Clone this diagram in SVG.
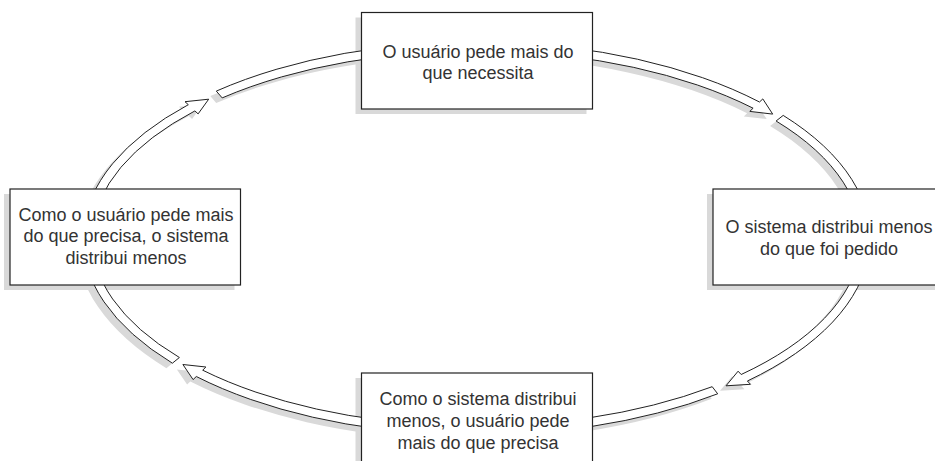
<svg xmlns="http://www.w3.org/2000/svg" width="935" height="461" viewBox="0 0 935 461">
<defs>
<style>
.arr{fill:#fff;stroke:#222;stroke-width:1;stroke-linejoin:miter}
.sh{fill:#d9d9d9;stroke:none}
.box{fill:#fff;stroke:#222;stroke-width:1.2}
.t{font-family:"Liberation Sans",Arial,sans-serif;font-size:18px;fill:#333;text-anchor:middle}
</style>
<path id="a1" d="M216.3,91.1 A393.5,196.5 0 0 1 759.5,102.0 L762.8,98.9 L772.7,114.1 L749.8,111.4 L753.1,108.2 A384.5,187.5 0 0 0 222.2,97.9 Z"/>
<path id="a2" d="M783.2,115.4 A393.5,196.5 0 0 1 747.4,381.0 L750.5,384.3 L726.0,385.8 L738.1,371.2 L741.2,374.5 A384.5,187.5 0 0 0 776.1,121.0 Z"/>
<path id="a3" d="M717.7,393.8 A393.5,196.5 0 0 1 196.3,376.5 L193.1,379.6 L182.9,364.5 L205.9,367.0 L202.7,370.2 A384.5,187.5 0 0 0 712.2,386.7 Z"/>
<path id="a4" d="M172.4,363.2 A393.5,196.5 0 0 1 188.3,104.7 L185.0,101.7 L208.7,99.2 L198.1,113.9 L194.9,110.9 A384.5,187.5 0 0 0 179.4,357.5 Z"/>
</defs>
<rect width="935" height="461" fill="#fff"/>
<g id="shadows" transform="translate(-6,5)">
<use href="#a1" class="sh"/>
<use href="#a2" class="sh"/>
<use href="#a3" class="sh"/>
<use href="#a4" class="sh"/>
<rect x="361.5" y="12.5" width="231" height="96.5" class="sh"/>
<rect x="713" y="189" width="231" height="96" class="sh"/>
<rect x="10" y="189" width="230.5" height="96" class="sh"/>
<rect x="361.5" y="373" width="231" height="100" class="sh"/>
</g>
<g id="connectors">
<use href="#a1" class="arr"/>
<use href="#a2" class="arr"/>
<use href="#a3" class="arr"/>
<use href="#a4" class="arr"/>
</g>
<g id="node-top">
<rect x="361.5" y="12.5" width="231" height="96.5" class="box"/>
<text class="t" x="478" y="57.5">O usuário pede mais do</text>
<text class="t" x="478" y="79">que necessita</text>
</g>
<g id="node-right">
<rect x="713" y="189" width="231" height="96" class="box"/>
<text class="t" x="829" y="233">O sistema distribui menos</text>
<text class="t" x="829" y="254.5">do que foi pedido</text>
</g>
<g id="node-left">
<rect x="10" y="189" width="230.5" height="96" class="box"/>
<text class="t" x="126" y="220.5">Como o usuário pede mais</text>
<text class="t" x="126" y="242">do que precisa, o sistema</text>
<text class="t" x="126" y="263.5">distribui menos</text>
</g>
<g id="node-bottom">
<rect x="361.5" y="373" width="231" height="100" class="box"/>
<text class="t" x="478" y="405">Como o sistema distribui</text>
<text class="t" x="478" y="427">menos, o usuário pede</text>
<text class="t" x="478" y="448.5">mais do que precisa</text>
</g>
</svg>
